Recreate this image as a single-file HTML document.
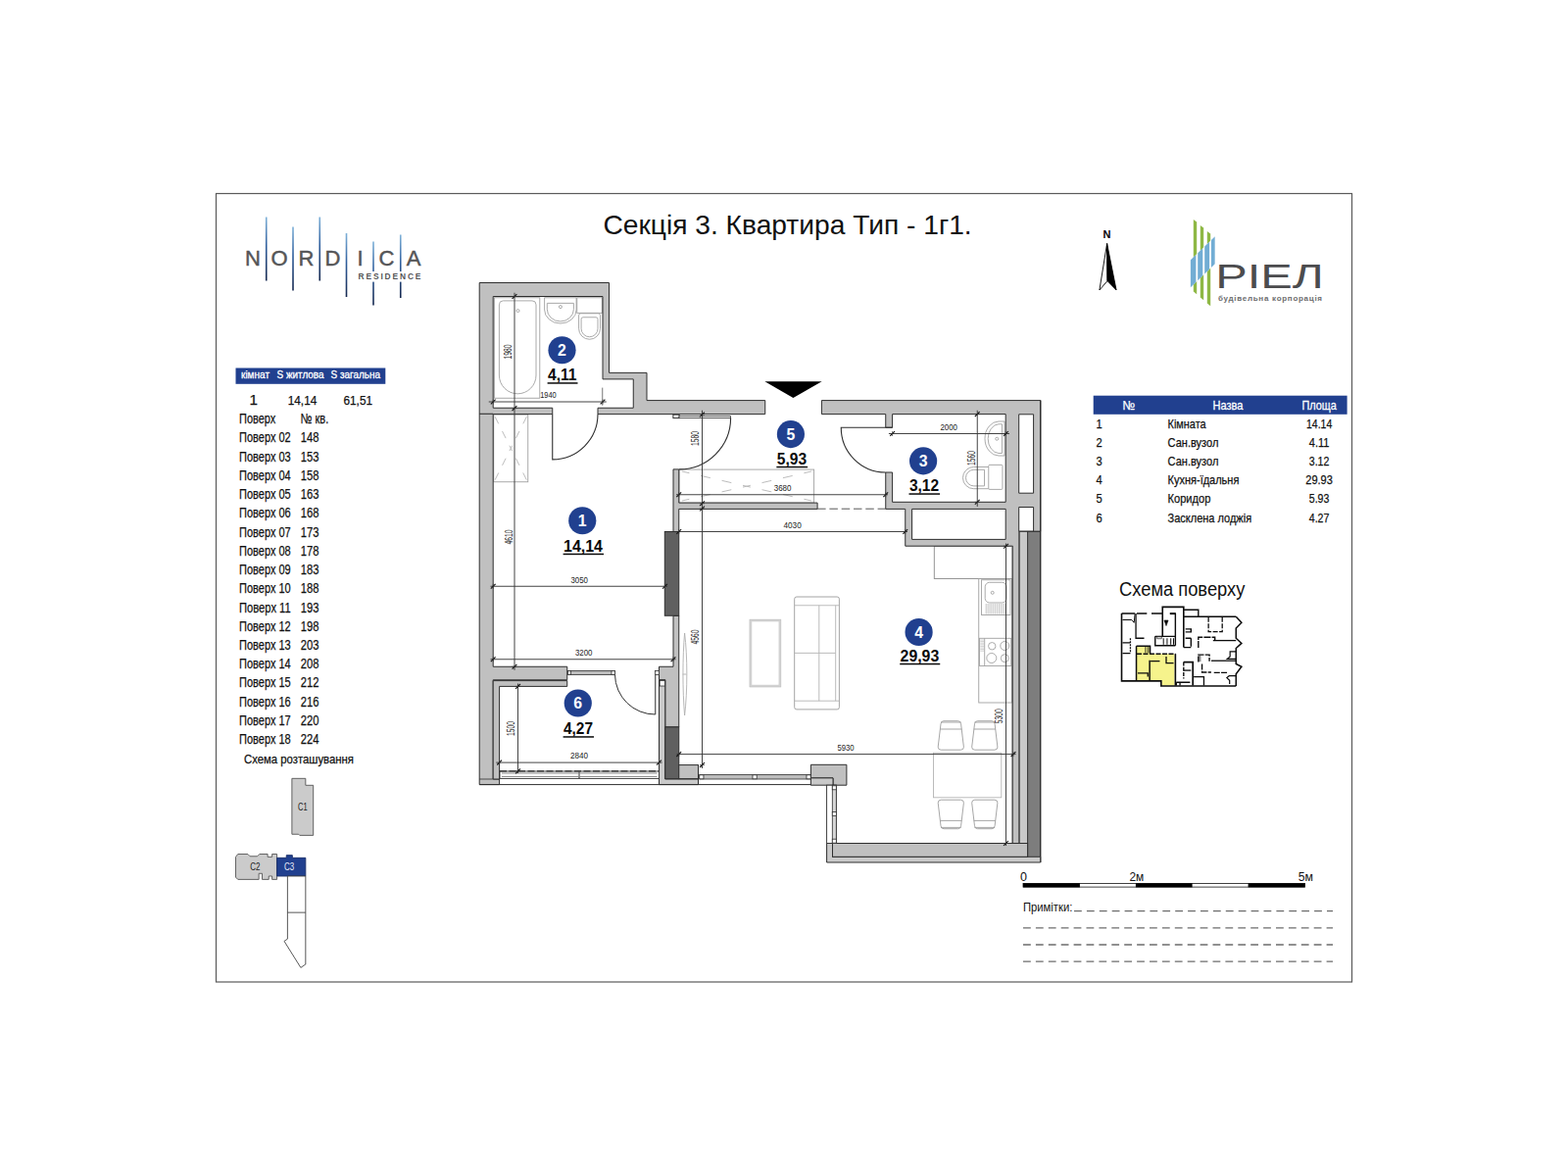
<!DOCTYPE html>
<html lang="uk">
<head>
<meta charset="utf-8">
<title>Секція 3. Квартира Тип - 1г1.</title>
<style>
html,body{margin:0;padding:0;background:#fff;}
body{width:1600px;height:1200px;overflow:hidden;}
svg{display:block;font-family:'Liberation Sans',sans-serif;}
</style>
</head>
<body>
<svg width="1600" height="1200" viewBox="0 0 1600 1200">
<rect x="0" y="0" width="1600" height="1200" fill="#ffffff"/>

<!-- frame -->
<rect x="220.50" y="197.50" width="1159.00" height="804.50" fill="none" stroke="#5a5a5a" stroke-width="1.2"/>
<!-- title -->
<text x="615.40" y="239.00" font-size="27.3" fill="#111" text-anchor="start" font-weight="normal" textLength="376.30" lengthAdjust="spacingAndGlyphs">Секція 3. Квартира Тип - 1г1.</text>
<!-- nordica logo -->
<defs><linearGradient id="ng" x1="0" y1="0" x2="0" y2="1"><stop offset="0" stop-color="#7fb2d9"/><stop offset="0.45" stop-color="#2f5f9e"/><stop offset="1" stop-color="#16284f"/></linearGradient></defs>
<rect x="270.95" y="221.5" width="1.6" height="65.0" fill="url(#ng)"/>
<rect x="298.20" y="231.5" width="1.6" height="65.0" fill="url(#ng)"/>
<rect x="325.45" y="221.5" width="1.6" height="65.0" fill="url(#ng)"/>
<rect x="352.70" y="238" width="1.6" height="65" fill="url(#ng)"/>
<rect x="380.20" y="246.5" width="1.6" height="65.0" fill="url(#ng)"/>
<rect x="407.95" y="239.5" width="1.6" height="64.5" fill="url(#ng)"/>
<text x="258.00" y="270.70" font-size="22" fill="#555557" text-anchor="middle" font-weight="normal" stroke="#555557" stroke-width="0.45">N</text>
<text x="285.00" y="270.70" font-size="22" fill="#555557" text-anchor="middle" font-weight="normal" stroke="#555557" stroke-width="0.45">O</text>
<text x="312.50" y="270.70" font-size="22" fill="#555557" text-anchor="middle" font-weight="normal" stroke="#555557" stroke-width="0.45">R</text>
<text x="339.50" y="270.70" font-size="22" fill="#555557" text-anchor="middle" font-weight="normal" stroke="#555557" stroke-width="0.45">D</text>
<text x="367.50" y="270.70" font-size="22" fill="#555557" text-anchor="middle" font-weight="normal" stroke="#555557" stroke-width="0.45">I</text>
<text x="394.50" y="270.70" font-size="22" fill="#555557" text-anchor="middle" font-weight="normal" stroke="#555557" stroke-width="0.45">C</text>
<text x="422.00" y="270.70" font-size="22" fill="#555557" text-anchor="middle" font-weight="normal" stroke="#555557" stroke-width="0.45">A</text>
<rect x="363.60" y="277.00" width="67.90" height="10.60" fill="#fff" stroke="none" stroke-width="1"/>
<text x="365.6" y="285.1" font-size="8.4" fill="#555557" font-weight="bold" textLength="63.8" lengthAdjust="spacing">RESIDENCE</text>
<!-- left table -->
<rect x="240.50" y="375.50" width="152.80" height="16.30" fill="#21408f" stroke="none" stroke-width="1"/>
<text x="246.00" y="386.30" font-size="10.6" fill="#fff" text-anchor="start" font-weight="normal" textLength="29.00" lengthAdjust="spacingAndGlyphs" stroke="#fff" stroke-width="0.3">кімнат</text>
<text x="282.50" y="386.30" font-size="10.6" fill="#fff" text-anchor="start" font-weight="normal" textLength="48.00" lengthAdjust="spacingAndGlyphs" stroke="#fff" stroke-width="0.3">S житлова</text>
<text x="337.50" y="386.30" font-size="10.6" fill="#fff" text-anchor="start" font-weight="normal" textLength="50.50" lengthAdjust="spacingAndGlyphs" stroke="#fff" stroke-width="0.3">S загальна</text>
<text x="254.60" y="413.40" font-size="15.2" fill="#111" text-anchor="start" font-weight="normal" stroke="#111" stroke-width="0.25">1</text>
<text x="293.75" y="413.20" font-size="12.2" fill="#111" text-anchor="start" font-weight="normal" textLength="29.50" lengthAdjust="spacingAndGlyphs" stroke="#111" stroke-width="0.25">14,14</text>
<text x="350.50" y="413.20" font-size="12.2" fill="#111" text-anchor="start" font-weight="normal" textLength="29.50" lengthAdjust="spacingAndGlyphs" stroke="#111" stroke-width="0.25">61,51</text>
<text x="244.00" y="432.40" font-size="14.5" fill="#111" text-anchor="start" font-weight="normal" textLength="37.30" lengthAdjust="spacingAndGlyphs" stroke="#111" stroke-width="0.25">Поверх</text>
<text x="306.70" y="432.40" font-size="14.5" fill="#111" text-anchor="start" font-weight="normal" textLength="28.50" lengthAdjust="spacingAndGlyphs" stroke="#111" stroke-width="0.25">№ кв.</text>
<text x="244.00" y="451.43" font-size="14.5" fill="#111" text-anchor="start" font-weight="normal" textLength="52.70" lengthAdjust="spacingAndGlyphs" stroke="#111" stroke-width="0.25">Поверх 02</text>
<text x="306.70" y="451.43" font-size="14.5" fill="#111" text-anchor="start" font-weight="normal" textLength="18.70" lengthAdjust="spacingAndGlyphs" stroke="#111" stroke-width="0.25">148</text>
<text x="244.00" y="470.66" font-size="14.5" fill="#111" text-anchor="start" font-weight="normal" textLength="52.70" lengthAdjust="spacingAndGlyphs" stroke="#111" stroke-width="0.25">Поверх 03</text>
<text x="306.70" y="470.66" font-size="14.5" fill="#111" text-anchor="start" font-weight="normal" textLength="18.70" lengthAdjust="spacingAndGlyphs" stroke="#111" stroke-width="0.25">153</text>
<text x="244.00" y="489.89" font-size="14.5" fill="#111" text-anchor="start" font-weight="normal" textLength="52.70" lengthAdjust="spacingAndGlyphs" stroke="#111" stroke-width="0.25">Поверх 04</text>
<text x="306.70" y="489.89" font-size="14.5" fill="#111" text-anchor="start" font-weight="normal" textLength="18.70" lengthAdjust="spacingAndGlyphs" stroke="#111" stroke-width="0.25">158</text>
<text x="244.00" y="509.12" font-size="14.5" fill="#111" text-anchor="start" font-weight="normal" textLength="52.70" lengthAdjust="spacingAndGlyphs" stroke="#111" stroke-width="0.25">Поверх 05</text>
<text x="306.70" y="509.12" font-size="14.5" fill="#111" text-anchor="start" font-weight="normal" textLength="18.70" lengthAdjust="spacingAndGlyphs" stroke="#111" stroke-width="0.25">163</text>
<text x="244.00" y="528.35" font-size="14.5" fill="#111" text-anchor="start" font-weight="normal" textLength="52.70" lengthAdjust="spacingAndGlyphs" stroke="#111" stroke-width="0.25">Поверх 06</text>
<text x="306.70" y="528.35" font-size="14.5" fill="#111" text-anchor="start" font-weight="normal" textLength="18.70" lengthAdjust="spacingAndGlyphs" stroke="#111" stroke-width="0.25">168</text>
<text x="244.00" y="547.58" font-size="14.5" fill="#111" text-anchor="start" font-weight="normal" textLength="52.70" lengthAdjust="spacingAndGlyphs" stroke="#111" stroke-width="0.25">Поверх 07</text>
<text x="306.70" y="547.58" font-size="14.5" fill="#111" text-anchor="start" font-weight="normal" textLength="18.70" lengthAdjust="spacingAndGlyphs" stroke="#111" stroke-width="0.25">173</text>
<text x="244.00" y="566.81" font-size="14.5" fill="#111" text-anchor="start" font-weight="normal" textLength="52.70" lengthAdjust="spacingAndGlyphs" stroke="#111" stroke-width="0.25">Поверх 08</text>
<text x="306.70" y="566.81" font-size="14.5" fill="#111" text-anchor="start" font-weight="normal" textLength="18.70" lengthAdjust="spacingAndGlyphs" stroke="#111" stroke-width="0.25">178</text>
<text x="244.00" y="586.04" font-size="14.5" fill="#111" text-anchor="start" font-weight="normal" textLength="52.70" lengthAdjust="spacingAndGlyphs" stroke="#111" stroke-width="0.25">Поверх 09</text>
<text x="306.70" y="586.04" font-size="14.5" fill="#111" text-anchor="start" font-weight="normal" textLength="18.70" lengthAdjust="spacingAndGlyphs" stroke="#111" stroke-width="0.25">183</text>
<text x="244.00" y="605.27" font-size="14.5" fill="#111" text-anchor="start" font-weight="normal" textLength="52.70" lengthAdjust="spacingAndGlyphs" stroke="#111" stroke-width="0.25">Поверх 10</text>
<text x="306.70" y="605.27" font-size="14.5" fill="#111" text-anchor="start" font-weight="normal" textLength="18.70" lengthAdjust="spacingAndGlyphs" stroke="#111" stroke-width="0.25">188</text>
<text x="244.00" y="624.50" font-size="14.5" fill="#111" text-anchor="start" font-weight="normal" textLength="52.70" lengthAdjust="spacingAndGlyphs" stroke="#111" stroke-width="0.25">Поверх 11</text>
<text x="306.70" y="624.50" font-size="14.5" fill="#111" text-anchor="start" font-weight="normal" textLength="18.70" lengthAdjust="spacingAndGlyphs" stroke="#111" stroke-width="0.25">193</text>
<text x="244.00" y="643.73" font-size="14.5" fill="#111" text-anchor="start" font-weight="normal" textLength="52.70" lengthAdjust="spacingAndGlyphs" stroke="#111" stroke-width="0.25">Поверх 12</text>
<text x="306.70" y="643.73" font-size="14.5" fill="#111" text-anchor="start" font-weight="normal" textLength="18.70" lengthAdjust="spacingAndGlyphs" stroke="#111" stroke-width="0.25">198</text>
<text x="244.00" y="662.96" font-size="14.5" fill="#111" text-anchor="start" font-weight="normal" textLength="52.70" lengthAdjust="spacingAndGlyphs" stroke="#111" stroke-width="0.25">Поверх 13</text>
<text x="306.70" y="662.96" font-size="14.5" fill="#111" text-anchor="start" font-weight="normal" textLength="18.70" lengthAdjust="spacingAndGlyphs" stroke="#111" stroke-width="0.25">203</text>
<text x="244.00" y="682.19" font-size="14.5" fill="#111" text-anchor="start" font-weight="normal" textLength="52.70" lengthAdjust="spacingAndGlyphs" stroke="#111" stroke-width="0.25">Поверх 14</text>
<text x="306.70" y="682.19" font-size="14.5" fill="#111" text-anchor="start" font-weight="normal" textLength="18.70" lengthAdjust="spacingAndGlyphs" stroke="#111" stroke-width="0.25">208</text>
<text x="244.00" y="701.42" font-size="14.5" fill="#111" text-anchor="start" font-weight="normal" textLength="52.70" lengthAdjust="spacingAndGlyphs" stroke="#111" stroke-width="0.25">Поверх 15</text>
<text x="306.70" y="701.42" font-size="14.5" fill="#111" text-anchor="start" font-weight="normal" textLength="18.70" lengthAdjust="spacingAndGlyphs" stroke="#111" stroke-width="0.25">212</text>
<text x="244.00" y="720.65" font-size="14.5" fill="#111" text-anchor="start" font-weight="normal" textLength="52.70" lengthAdjust="spacingAndGlyphs" stroke="#111" stroke-width="0.25">Поверх 16</text>
<text x="306.70" y="720.65" font-size="14.5" fill="#111" text-anchor="start" font-weight="normal" textLength="18.70" lengthAdjust="spacingAndGlyphs" stroke="#111" stroke-width="0.25">216</text>
<text x="244.00" y="739.88" font-size="14.5" fill="#111" text-anchor="start" font-weight="normal" textLength="52.70" lengthAdjust="spacingAndGlyphs" stroke="#111" stroke-width="0.25">Поверх 17</text>
<text x="306.70" y="739.88" font-size="14.5" fill="#111" text-anchor="start" font-weight="normal" textLength="18.70" lengthAdjust="spacingAndGlyphs" stroke="#111" stroke-width="0.25">220</text>
<text x="244.00" y="759.11" font-size="14.5" fill="#111" text-anchor="start" font-weight="normal" textLength="52.70" lengthAdjust="spacingAndGlyphs" stroke="#111" stroke-width="0.25">Поверх 18</text>
<text x="306.70" y="759.11" font-size="14.5" fill="#111" text-anchor="start" font-weight="normal" textLength="18.70" lengthAdjust="spacingAndGlyphs" stroke="#111" stroke-width="0.25">224</text>
<text x="249.00" y="779.30" font-size="13" fill="#111" text-anchor="start" font-weight="normal" textLength="112.00" lengthAdjust="spacingAndGlyphs" stroke="#111" stroke-width="0.25">Схема розташування</text>
<!-- location scheme -->
<polygon points="297.88,794.33 311.83,794.33 311.83,801.30 319.70,801.30 319.70,852.38 305.75,852.38 304.63,851.25 297.88,851.25" fill="#cbcbcb" stroke="#555" stroke-width="0.9"/>
<text x="304.00" y="827.00" font-size="10.5" fill="#222" text-anchor="start" font-weight="normal" textLength="9.60" lengthAdjust="spacingAndGlyphs">C1</text>
<polygon points="240.50,874.43 242.75,871.50 252.88,871.50 255.13,873.75 262.55,873.75 264.80,871.50 273.13,871.50 273.13,874.43 277.63,874.43 277.63,871.50 282.58,871.50 282.58,897.38 277.63,897.38 277.63,894.00 274.25,894.00 274.25,897.38 267.50,897.38 267.50,891.30 264.13,891.30 264.13,897.38 242.75,897.38 240.50,895.13" fill="#cbcbcb" stroke="#555" stroke-width="0.9"/>
<text x="255.20" y="887.70" font-size="10.5" fill="#222" text-anchor="start" font-weight="normal" textLength="10.20" lengthAdjust="spacingAndGlyphs">C2</text>
<polygon points="282.58,875.33 292.25,875.33 292.25,872.63 298.33,872.63 298.33,875.33 311.83,875.33 311.83,894.00 282.58,894.00" fill="#21408f" stroke="#1a2f6a" stroke-width="0.9"/>
<text x="290.00" y="887.70" font-size="10.5" fill="#e8ecf7" text-anchor="start" font-weight="normal" textLength="10.20" lengthAdjust="spacingAndGlyphs">C3</text>
<polygon points="293.38,894.00 311.83,894.00 311.83,984.00 306.88,987.38 290.00,960.38 293.38,958.13" fill="#fff" stroke="#444" stroke-width="0.9"/>
<line x1="293.38" y1="931.13" x2="311.83" y2="931.13" stroke="#444" stroke-width="0.9"/>
<!-- plan: fixtures and furniture -->
<g fill="none" stroke="#a0a0a0" stroke-width="0.9">
<rect x="504.4" y="303.75" width="46.4" height="102.5"/>
<path d="M513.4,306.9 H543 a4,4 0 0 1 4,4 V383 a18.8,18.8 0 0 1 -37.6,0 V310.9 a4,4 0 0 1 4,-4 Z"/>
<circle cx="528.5" cy="317.1" r="1.5"/>
<path d="M555.6,303.75 H588.1 V316 a16.2,14 0 0 1 -32.5,0 Z"/>
<path d="M558.3,309.4 H585.4 V315.5 a13.5,12.4 0 0 1 -27.1,0 Z"/>
<circle cx="571.9" cy="313.1" r="1.5"/>
<rect x="588.75" y="303.75" width="25.6" height="15.6"/>
<path d="M590.6,321.8 a2,2 0 0 1 2,-2 H610.5 a2,2 0 0 1 2,2 V335.3 a10.95,10.95 0 0 1 -21.9,0 Z"/>
<path d="M593.1,325.75 a2,2 0 0 1 2,-2 H608 a2,2 0 0 1 2,2 V335.3 a8.45,8.45 0 0 1 -16.9,0 Z"/>
<path d="M1025,430 V465 H1019 a14,17.5 0 0 1 0,-35 Z"/>
<path d="M1022.5,432.75 V462.5 H1019 a11.5,14.9 0 0 1 0,-29.75 Z"/>
<circle cx="1017.25" cy="447.75" r="1.5"/>
<rect x="1008.75" y="474.4" width="14.2" height="25" rx="1"/>
<path d="M1008.75,476.5 H993.6 a11.1,11.1 0 0 0 0,22.2 H1008.75"/>
<path d="M1004.5,479.3 H993.8 a8.3,8.3 0 0 0 0,16.6 H1004.5 Z"/>
<rect x="503.75" y="423" width="35" height="68.75"/>
<rect x="693.1" y="479.1" width="137.5" height="34"/>
<g stroke-dasharray="8 8.5" stroke="#b4b4b4"><path d="M521.25,457.4 L505,425 M521.25,457.4 L537.5,425 M521.25,457.4 L505,490 M521.25,457.4 L537.5,490" stroke-dashoffset="5"/><path d="M761.9,496.2 L696,481 M761.9,496.2 L828,481 M761.9,496.2 L696,511 M761.9,496.2 L828,511" stroke-dasharray="10 12" stroke-dashoffset="6"/></g>
<rect x="953.3" y="557.25" width="80.7" height="33.25" stroke="#8a8a8a"/>
<rect x="998.75" y="590.5" width="33.75" height="126.5"/>
<rect x="1001.5" y="591.75" width="29.5" height="35.75"/>
<rect x="1005.2" y="594.3" width="21.8" height="20.7" rx="4.5"/>
<circle cx="1012.7" cy="604.8" r="1.5"/>
<path d="M1006.2,616 V626.6 M1008.1,616 V626.6 M1010.0,616 V626.6 M1011.9,616 V626.6 M1013.8,616 V626.6 M1015.7,616 V626.6 M1017.6,616 V626.6 M1019.5,616 V626.6 M1021.4,616 V626.6 M1023.3,616 V626.6 M1025.2,616 V626.6" stroke-width="0.6"/>
<rect x="999.5" y="651.3" width="32.25" height="28.2"/>
<line x1="1004.7" y1="651.3" x2="1004.7" y2="679.5"/>
<path d="M1000.3,653.0 H1004 M1000.3,654.6 H1004 M1000.3,656.2 H1004 M1000.3,657.8 H1004 M1000.3,659.4 H1004 M1000.3,661.0 H1004 M1000.3,662.6 H1004 M1000.3,664.2 H1004" stroke-width="0.5"/>
<circle cx="1012.25" cy="659.25" r="3.7"/><circle cx="1025.3" cy="659" r="4.5"/><circle cx="1011.8" cy="671.5" r="5"/><circle cx="1025.3" cy="671.7" r="4"/>
<rect x="810.7" y="609" width="45.7" height="114.9" rx="2.2" stroke="#9a9a9a"/>
<path d="M810.7,617.75 H856.4 M810.7,715.2 H856.4 M835.8,617.75 V715.2 M852.7,617.75 V715.2 M810.7,666.4 H852.7" stroke="#b4b4b4"/>
<rect x="766.1" y="633.2" width="29.6" height="66.7" stroke="#d2d2d2" stroke-width="2.3"/>
<rect x="764.9" y="632.1" width="32" height="68.9" stroke="#b8b8b8" stroke-width="0.5"/>
<path d="M698.6,646 C701.6,670 701.6,705 698.6,730 C696.4,705 696.4,670 698.6,646 Z M696.5,688 H700.6" stroke="#b0b0b0"/>
<rect x="952.5" y="768.2" width="69.3" height="45.6" stroke="#b4b4b4"/>
<path d="M957.1999999999999,819.2 Q957.1999999999999,816.2 960.1999999999999,816.2 H980.4 Q983.4,816.2 983.4,819.2 L980.5999999999999,842.7 Q980.3,845.7 977.5999999999999,845.7 H963.0 Q960.3,845.7 960.0,842.7 Z M959.1999999999999,837.4000000000001 H981.4 M960.0,844.4000000000001 H980.5999999999999" stroke="#9c9c9c"/>
<path d="M991.6999999999999,819.2 Q991.6999999999999,816.2 994.6999999999999,816.2 H1014.9 Q1017.9,816.2 1017.9,819.2 L1015.0999999999999,842.7 Q1014.8,845.7 1012.0999999999999,845.7 H997.5 Q994.8,845.7 994.5,842.7 Z M993.6999999999999,837.4000000000001 H1015.9 M994.5,844.4000000000001 H1015.0999999999999" stroke="#9c9c9c"/>
<path d="M957.1999999999999,762.2 Q957.1999999999999,765.2 960.1999999999999,765.2 H980.4 Q983.4,765.2 983.4,762.2 L980.5999999999999,738.7 Q980.3,735.7 977.5999999999999,735.7 H963.0 Q960.3,735.7 960.0,738.7 Z M959.1999999999999,744.0 H981.4 M960.0,737.0 H980.5999999999999" stroke="#9c9c9c"/>
<path d="M991.6999999999999,762.2 Q991.6999999999999,765.2 994.6999999999999,765.2 H1014.9 Q1017.9,765.2 1017.9,762.2 L1015.0999999999999,738.7 Q1014.8,735.7 1012.0999999999999,735.7 H997.5 Q994.8,735.7 994.5,738.7 Z M993.6999999999999,744.0 H1015.9 M994.5,737.0 H1015.0999999999999" stroke="#9c9c9c"/>
</g>
<!-- plan: walls -->
<g stroke-linejoin="miter">
<polygon points="489.20,288.50 621.50,288.50 621.50,380.40 660.00,380.40 660.00,408.60 780.75,408.60 780.75,422.60 610.00,422.60 610.00,416.25 646.25,416.25 646.25,386.90 615.00,386.90 615.00,302.50 503.20,302.50 503.20,416.25 563.75,416.25 563.75,422.60 503.20,422.60 503.20,680.25 578.75,680.25 578.75,693.75 503.20,693.75 503.20,795.00 509.60,795.00 509.60,800.60 489.20,800.60" fill="#c0c0c0" stroke="#2e2e2e" stroke-width="1"/>
<line x1="489.20" y1="422.30" x2="503.20" y2="422.30" stroke="#2e2e2e" stroke-width="1.1"/>
<line x1="489.20" y1="795.00" x2="503.20" y2="795.00" stroke="#2e2e2e" stroke-width="0.8"/>
<polygon points="503.20,694.60 578.75,694.60 578.75,700.40 509.60,700.40 509.60,795.00 503.20,795.00" fill="#c0c0c0" stroke="#2e2e2e" stroke-width="1"/>
<path d="M838.4,408.6 L1061.7,408.6 L1061.7,542.3 L1040.1,542.3 L1040.1,860.5 L1033.4,860.5 L1033.4,557.2 L923.75,557.2 L923.75,519.4 L903.75,519.4 L903.75,482 L910.6,482 L910.6,512.3 L1026.2,512.3 L1026.2,422.6 L910.6,422.6 L910.6,436.25 L903.75,436.25 L903.75,422.6 L838.4,422.6 Z M930.6,519.4 L1026.2,519.4 L1026.2,550.4 L930.6,550.4 Z M1039.7,422.8 L1054.6,422.8 L1054.6,503.2 L1039.7,503.2 Z M1039.7,517.5 L1054.6,517.5 L1054.6,542.3 L1039.7,542.3 Z" fill="#c0c0c0" stroke="#2e2e2e" stroke-width="1" fill-rule="evenodd"/>
<rect x="1040.30" y="542.30" width="8.10" height="332.00" fill="#c9c9c9" stroke="none" stroke-width="1"/>
<rect x="1048.90" y="542.30" width="12.80" height="332.00" fill="#7d7d7d" stroke="none" stroke-width="1"/>
<line x1="1033.20" y1="557.20" x2="1033.20" y2="860.50" stroke="#5a5a5a" stroke-width="1.5"/>
<line x1="1040.10" y1="542.30" x2="1040.10" y2="860.50" stroke="#2e2e2e" stroke-width="1"/>
<line x1="1048.60" y1="542.30" x2="1048.60" y2="874.30" stroke="#2e2e2e" stroke-width="1"/>
<line x1="1061.70" y1="408.60" x2="1061.70" y2="880.00" stroke="#2e2e2e" stroke-width="1.4"/>
<line x1="1040.10" y1="542.30" x2="1061.70" y2="542.30" stroke="#2e2e2e" stroke-width="1"/>
<polygon points="843.60,860.50 849.50,860.50 849.50,874.30 1061.70,874.30 1061.70,880.00 843.60,880.00" fill="#c9c9c9" stroke="#2e2e2e" stroke-width="1"/>
<rect x="849.50" y="860.50" width="199.10" height="13.80" fill="#c0c0c0" stroke="#2e2e2e" stroke-width="1"/>
<polygon points="687.00,478.90 692.75,478.90 692.75,513.10 834.10,513.10 834.10,519.40 692.75,519.40 692.75,542.50 687.00,542.50" fill="#c0c0c0" stroke="#2e2e2e" stroke-width="1"/>
<rect x="686.90" y="423.10" width="6.20" height="3.50" fill="#fff" stroke="#2e2e2e" stroke-width="1"/>
<polygon points="687.00,628.25 692.75,628.25 692.75,741.90 678.75,741.90 678.75,693.75 672.50,693.75 672.50,680.25 687.00,680.25" fill="#c0c0c0" stroke="#2e2e2e" stroke-width="1"/>
<polygon points="672.50,693.75 678.75,693.75 678.75,795.00 712.50,795.00 712.50,800.60 672.50,800.60" fill="#c9c9c9" stroke="#2e2e2e" stroke-width="1"/>
<rect x="673.20" y="694.60" width="5.20" height="5.40" fill="#fff" stroke="#2e2e2e" stroke-width="0.8"/>
<rect x="678.30" y="542.50" width="14.45" height="85.75" fill="#606060" stroke="#2e2e2e" stroke-width="1"/>
<rect x="678.75" y="741.90" width="14.00" height="52.70" fill="#606060" stroke="#2e2e2e" stroke-width="1"/>
<rect x="692.75" y="780.60" width="19.75" height="14.00" fill="#c0c0c0" stroke="#2e2e2e" stroke-width="1"/>
<polygon points="827.40,780.30 863.90,780.30 863.90,801.20 850.00,801.20 850.00,793.90 827.40,793.90" fill="#c0c0c0" stroke="#2e2e2e" stroke-width="1"/>
<polygon points="827.40,793.90 850.00,793.90 850.00,801.20 827.40,801.20" fill="#c9c9c9" stroke="#2e2e2e" stroke-width="1"/>
</g>
<!-- plan: windows -->
<rect x="579.40" y="684.40" width="48.10" height="4.10" fill="#bdbdbd" stroke="#2e2e2e" stroke-width="0.8"/>
<rect x="579.40" y="684.40" width="3.20" height="4.10" fill="#fff" stroke="#2e2e2e" stroke-width="0.8"/>
<rect x="624.00" y="684.40" width="3.50" height="4.10" fill="#fff" stroke="#2e2e2e" stroke-width="0.8"/>
<rect x="668.50" y="684.40" width="4.00" height="4.10" fill="#fff" stroke="#2e2e2e" stroke-width="0.8"/>
<rect x="510.00" y="787.00" width="162.50" height="7.40" fill="#fff" stroke="#2e2e2e" stroke-width="0.9"/>
<line x1="510.00" y1="786.90" x2="672.50" y2="786.90" stroke="#2e2e2e" stroke-width="1.3" stroke-dasharray="7 2.5"/>
<line x1="512.00" y1="789.00" x2="670.50" y2="789.00" stroke="#555" stroke-width="0.7"/>
<line x1="512.00" y1="792.40" x2="670.50" y2="792.40" stroke="#555" stroke-width="0.7"/>
<line x1="591.00" y1="787.50" x2="591.00" y2="794.40" stroke="#444" stroke-width="1.6"/>
<line x1="591.00" y1="788.20" x2="591.00" y2="793.60" stroke="#fff" stroke-width="0.6"/>
<line x1="489.20" y1="800.60" x2="827.40" y2="800.60" stroke="#2e2e2e" stroke-width="1"/>
<rect x="713.75" y="790.60" width="113.65" height="4.40" fill="#bdbdbd" stroke="#2e2e2e" stroke-width="0.8"/>
<rect x="713.75" y="790.80" width="4.20" height="4.00" fill="#fff" stroke="#2e2e2e" stroke-width="0.8"/>
<rect x="768.00" y="790.80" width="4.20" height="4.00" fill="#fff" stroke="#2e2e2e" stroke-width="0.8"/>
<rect x="823.00" y="790.80" width="4.20" height="4.00" fill="#fff" stroke="#2e2e2e" stroke-width="0.8"/>
<rect x="843.60" y="801.20" width="9.70" height="59.30" fill="#fff" stroke="#2e2e2e" stroke-width="0.9"/>
<rect x="849.30" y="801.20" width="4.00" height="59.30" fill="#d8d8d8" stroke="#2e2e2e" stroke-width="0.8"/>
<rect x="849.30" y="801.80" width="4.00" height="4.00" fill="#fff" stroke="#2e2e2e" stroke-width="0.8"/>
<rect x="849.30" y="828.60" width="4.00" height="4.00" fill="#fff" stroke="#2e2e2e" stroke-width="0.8"/>
<rect x="849.30" y="856.20" width="4.00" height="4.00" fill="#fff" stroke="#2e2e2e" stroke-width="0.8"/>
<!-- plan: doors -->
<path d="M563.75,422.6 L563.75,468.9 A46.25,46.25 0 0 0 610,422.6" fill="none" stroke="#2e2e2e" stroke-width="1.1"/>
<rect x="693.00" y="424.60" width="52.60" height="2.00" fill="#fff" stroke="#2e2e2e" stroke-width="0.8"/>
<path d="M745.6,426.6 A52.4,52.4 0 0 1 693.1,478.9" fill="none" stroke="#2e2e2e" stroke-width="1.1"/>
<path d="M910.6,436.25 L858.25,436.25 A45.6,45.6 0 0 0 903.75,482" fill="none" stroke="#2e2e2e" stroke-width="1.1"/>
<path d="M668.75,688.5 L668.75,729 A41,41 0 0 1 627.5,688.5" fill="none" stroke="#2e2e2e" stroke-width="1.0"/>
<!-- plan: entry arrow -->
<polygon points="780.40,389.20 838.60,389.20 809.40,406.00" fill="#000" stroke="none" stroke-width="1"/>
<!-- plan: dashed line corridor -->
<line x1="834.10" y1="519.20" x2="903.75" y2="519.20" stroke="#444" stroke-width="0.9" stroke-dasharray="8.5 3.8"/>
<!-- plan: dimensions -->
<line x1="525.00" y1="298.75" x2="525.00" y2="683.75" stroke="#3a3a3a" stroke-width="0.95"/>
<line x1="522.60" y1="304.90" x2="527.40" y2="300.10" stroke="#111" stroke-width="1.1"/>
<line x1="522.50" y1="302.50" x2="527.50" y2="302.50" stroke="#3a3a3a" stroke-width="0.7"/>
<line x1="522.60" y1="419.00" x2="527.40" y2="414.20" stroke="#111" stroke-width="1.1"/>
<line x1="522.50" y1="416.60" x2="527.50" y2="416.60" stroke="#3a3a3a" stroke-width="0.7"/>
<line x1="522.60" y1="682.65" x2="527.40" y2="677.85" stroke="#111" stroke-width="1.1"/>
<line x1="522.50" y1="680.25" x2="527.50" y2="680.25" stroke="#3a3a3a" stroke-width="0.7"/>
<text transform="translate(522.40,359.00) rotate(-90)" font-size="11" fill="#222" text-anchor="middle" textLength="15" lengthAdjust="spacingAndGlyphs">1980</text>
<text transform="translate(522.65,548.00) rotate(-90)" font-size="11" fill="#222" text-anchor="middle" textLength="15" lengthAdjust="spacingAndGlyphs">4610</text>
<line x1="498.75" y1="410.00" x2="618.75" y2="410.00" stroke="#3a3a3a" stroke-width="0.95"/>
<line x1="500.80" y1="412.40" x2="505.60" y2="407.60" stroke="#111" stroke-width="1.1"/>
<line x1="503.20" y1="407.50" x2="503.20" y2="412.50" stroke="#3a3a3a" stroke-width="0.7"/>
<line x1="612.60" y1="412.40" x2="617.40" y2="407.60" stroke="#111" stroke-width="1.1"/>
<line x1="615.00" y1="407.50" x2="615.00" y2="412.50" stroke="#3a3a3a" stroke-width="0.7"/>
<line x1="614.75" y1="395.60" x2="614.75" y2="413.75" stroke="#3a3a3a" stroke-width="0.7"/>
<text x="559.40" y="405.60" font-size="9.6" fill="#222" text-anchor="middle" font-weight="normal" textLength="16.50" lengthAdjust="spacingAndGlyphs">1940</text>
<line x1="716.50" y1="418.75" x2="716.50" y2="784.00" stroke="#3a3a3a" stroke-width="0.95"/>
<line x1="714.10" y1="425.40" x2="718.90" y2="420.60" stroke="#111" stroke-width="1.1"/>
<line x1="714.00" y1="423.00" x2="719.00" y2="423.00" stroke="#3a3a3a" stroke-width="0.7"/>
<line x1="714.10" y1="516.15" x2="718.90" y2="511.35" stroke="#111" stroke-width="1.1"/>
<line x1="714.00" y1="513.75" x2="719.00" y2="513.75" stroke="#3a3a3a" stroke-width="0.7"/>
<line x1="714.10" y1="521.40" x2="718.90" y2="516.60" stroke="#111" stroke-width="1.1"/>
<line x1="714.00" y1="519.00" x2="719.00" y2="519.00" stroke="#3a3a3a" stroke-width="0.7"/>
<line x1="714.10" y1="783.00" x2="718.90" y2="778.20" stroke="#111" stroke-width="1.1"/>
<line x1="714.00" y1="780.60" x2="719.00" y2="780.60" stroke="#3a3a3a" stroke-width="0.7"/>
<text transform="translate(712.90,447.50) rotate(-90)" font-size="11" fill="#222" text-anchor="middle" textLength="15" lengthAdjust="spacingAndGlyphs">1580</text>
<text transform="translate(713.40,650.00) rotate(-90)" font-size="11" fill="#222" text-anchor="middle" textLength="15" lengthAdjust="spacingAndGlyphs">4560</text>
<line x1="690.00" y1="504.75" x2="906.00" y2="504.75" stroke="#3a3a3a" stroke-width="0.95"/>
<line x1="690.35" y1="507.15" x2="695.15" y2="502.35" stroke="#111" stroke-width="1.1"/>
<line x1="692.75" y1="502.25" x2="692.75" y2="507.25" stroke="#3a3a3a" stroke-width="0.7"/>
<line x1="901.35" y1="507.15" x2="906.15" y2="502.35" stroke="#111" stroke-width="1.1"/>
<line x1="903.75" y1="502.25" x2="903.75" y2="507.25" stroke="#3a3a3a" stroke-width="0.7"/>
<text x="798.60" y="501.25" font-size="9.6" fill="#222" text-anchor="middle" font-weight="normal" textLength="17.75" lengthAdjust="spacingAndGlyphs">3680</text>
<line x1="692.50" y1="542.50" x2="926.00" y2="542.50" stroke="#3a3a3a" stroke-width="0.95"/>
<line x1="690.35" y1="544.90" x2="695.15" y2="540.10" stroke="#111" stroke-width="1.1"/>
<line x1="692.75" y1="540.00" x2="692.75" y2="545.00" stroke="#3a3a3a" stroke-width="0.7"/>
<line x1="921.35" y1="544.90" x2="926.15" y2="540.10" stroke="#111" stroke-width="1.1"/>
<line x1="923.75" y1="540.00" x2="923.75" y2="545.00" stroke="#3a3a3a" stroke-width="0.7"/>
<text x="808.60" y="539.00" font-size="9.6" fill="#222" text-anchor="middle" font-weight="normal" textLength="18.30" lengthAdjust="spacingAndGlyphs">4030</text>
<line x1="906.90" y1="442.50" x2="1030.00" y2="442.50" stroke="#3a3a3a" stroke-width="0.95"/>
<line x1="908.20" y1="444.90" x2="913.00" y2="440.10" stroke="#111" stroke-width="1.1"/>
<line x1="910.60" y1="440.00" x2="910.60" y2="445.00" stroke="#3a3a3a" stroke-width="0.7"/>
<line x1="1024.00" y1="444.90" x2="1028.80" y2="440.10" stroke="#111" stroke-width="1.1"/>
<line x1="1026.40" y1="440.00" x2="1026.40" y2="445.00" stroke="#3a3a3a" stroke-width="0.7"/>
<text x="968.20" y="438.50" font-size="9.6" fill="#222" text-anchor="middle" font-weight="normal" textLength="17.50" lengthAdjust="spacingAndGlyphs">2000</text>
<line x1="997.25" y1="418.75" x2="997.25" y2="516.90" stroke="#3a3a3a" stroke-width="0.95"/>
<line x1="994.85" y1="425.00" x2="999.65" y2="420.20" stroke="#111" stroke-width="1.1"/>
<line x1="994.75" y1="422.60" x2="999.75" y2="422.60" stroke="#3a3a3a" stroke-width="0.7"/>
<line x1="994.85" y1="514.70" x2="999.65" y2="509.90" stroke="#111" stroke-width="1.1"/>
<line x1="994.75" y1="512.30" x2="999.75" y2="512.30" stroke="#3a3a3a" stroke-width="0.7"/>
<text transform="translate(994.50,467.50) rotate(-90)" font-size="11" fill="#222" text-anchor="middle" textLength="15" lengthAdjust="spacingAndGlyphs">1560</text>
<line x1="500.50" y1="598.25" x2="681.00" y2="598.25" stroke="#3a3a3a" stroke-width="0.95"/>
<line x1="500.80" y1="600.65" x2="505.60" y2="595.85" stroke="#111" stroke-width="1.1"/>
<line x1="503.20" y1="595.75" x2="503.20" y2="600.75" stroke="#3a3a3a" stroke-width="0.7"/>
<line x1="676.10" y1="600.65" x2="680.90" y2="595.85" stroke="#111" stroke-width="1.1"/>
<line x1="678.50" y1="595.75" x2="678.50" y2="600.75" stroke="#3a3a3a" stroke-width="0.7"/>
<text x="591.25" y="595.00" font-size="9.6" fill="#222" text-anchor="middle" font-weight="normal" textLength="17.50" lengthAdjust="spacingAndGlyphs">3050</text>
<line x1="500.50" y1="672.75" x2="689.50" y2="672.75" stroke="#3a3a3a" stroke-width="0.95"/>
<line x1="500.80" y1="675.15" x2="505.60" y2="670.35" stroke="#111" stroke-width="1.1"/>
<line x1="503.20" y1="670.25" x2="503.20" y2="675.25" stroke="#3a3a3a" stroke-width="0.7"/>
<line x1="684.60" y1="675.15" x2="689.40" y2="670.35" stroke="#111" stroke-width="1.1"/>
<line x1="687.00" y1="670.25" x2="687.00" y2="675.25" stroke="#3a3a3a" stroke-width="0.7"/>
<text x="595.75" y="669.20" font-size="9.6" fill="#222" text-anchor="middle" font-weight="normal" textLength="17.50" lengthAdjust="spacingAndGlyphs">3200</text>
<line x1="528.50" y1="697.50" x2="528.50" y2="789.00" stroke="#3a3a3a" stroke-width="0.95"/>
<line x1="526.10" y1="702.80" x2="530.90" y2="698.00" stroke="#111" stroke-width="1.1"/>
<line x1="526.00" y1="700.40" x2="531.00" y2="700.40" stroke="#3a3a3a" stroke-width="0.7"/>
<line x1="526.10" y1="789.30" x2="530.90" y2="784.50" stroke="#111" stroke-width="1.1"/>
<line x1="526.00" y1="786.90" x2="531.00" y2="786.90" stroke="#3a3a3a" stroke-width="0.7"/>
<text transform="translate(525.15,743.50) rotate(-90)" font-size="11" fill="#222" text-anchor="middle" textLength="15" lengthAdjust="spacingAndGlyphs">1500</text>
<line x1="506.25" y1="778.10" x2="675.50" y2="778.10" stroke="#3a3a3a" stroke-width="0.95"/>
<line x1="507.20" y1="780.50" x2="512.00" y2="775.70" stroke="#111" stroke-width="1.1"/>
<line x1="509.60" y1="775.60" x2="509.60" y2="780.60" stroke="#3a3a3a" stroke-width="0.7"/>
<line x1="670.10" y1="780.50" x2="674.90" y2="775.70" stroke="#111" stroke-width="1.1"/>
<line x1="672.50" y1="775.60" x2="672.50" y2="780.60" stroke="#3a3a3a" stroke-width="0.7"/>
<text x="591.00" y="773.50" font-size="9.6" fill="#222" text-anchor="middle" font-weight="normal" textLength="18.10" lengthAdjust="spacingAndGlyphs">2840</text>
<line x1="690.50" y1="769.60" x2="1036.50" y2="769.60" stroke="#3a3a3a" stroke-width="0.95"/>
<line x1="690.35" y1="772.00" x2="695.15" y2="767.20" stroke="#111" stroke-width="1.1"/>
<line x1="692.75" y1="767.10" x2="692.75" y2="772.10" stroke="#3a3a3a" stroke-width="0.7"/>
<line x1="1031.60" y1="772.00" x2="1036.40" y2="767.20" stroke="#111" stroke-width="1.1"/>
<line x1="1034.00" y1="767.10" x2="1034.00" y2="772.10" stroke="#3a3a3a" stroke-width="0.7"/>
<text x="863.10" y="766.25" font-size="9.6" fill="#222" text-anchor="middle" font-weight="normal" textLength="17.10" lengthAdjust="spacingAndGlyphs">5930</text>
<line x1="1026.50" y1="554.50" x2="1026.50" y2="863.00" stroke="#3a3a3a" stroke-width="0.95"/>
<line x1="1024.10" y1="559.60" x2="1028.90" y2="554.80" stroke="#111" stroke-width="1.1"/>
<line x1="1024.00" y1="557.20" x2="1029.00" y2="557.20" stroke="#3a3a3a" stroke-width="0.7"/>
<line x1="1024.10" y1="862.90" x2="1028.90" y2="858.10" stroke="#111" stroke-width="1.1"/>
<line x1="1024.00" y1="860.50" x2="1029.00" y2="860.50" stroke="#3a3a3a" stroke-width="0.7"/>
<text transform="translate(1023.15,730.75) rotate(-90)" font-size="11" fill="#222" text-anchor="middle" textLength="15" lengthAdjust="spacingAndGlyphs">5300</text>
<!-- plan: room labels -->
<circle cx="594.25" cy="531.25" r="14.1" fill="#21408f"/>
<text x="594.25" y="536.85" font-size="15.8" fill="#fff" text-anchor="middle" font-weight="bold">1</text>
<text x="575.00" y="562.80" font-size="16.3" fill="#0a0a0a" text-anchor="start" font-weight="bold" textLength="40.00" lengthAdjust="spacingAndGlyphs">14,14</text>
<rect x="574.60" y="564.70" width="41.40" height="1.50" fill="#0a0a0a" stroke="none" stroke-width="1"/>
<circle cx="573.5" cy="357.25" r="14.1" fill="#21408f"/>
<text x="573.50" y="362.85" font-size="15.8" fill="#fff" text-anchor="middle" font-weight="bold">2</text>
<text x="559.00" y="388.30" font-size="16.3" fill="#0a0a0a" text-anchor="start" font-weight="bold" textLength="29.50" lengthAdjust="spacingAndGlyphs">4,11</text>
<rect x="558.60" y="390.20" width="30.90" height="1.50" fill="#0a0a0a" stroke="none" stroke-width="1"/>
<circle cx="942.1" cy="470.4" r="14.1" fill="#21408f"/>
<text x="942.10" y="476.00" font-size="15.8" fill="#fff" text-anchor="middle" font-weight="bold">3</text>
<text x="927.90" y="501.40" font-size="16.3" fill="#0a0a0a" text-anchor="start" font-weight="bold" textLength="30.20" lengthAdjust="spacingAndGlyphs">3,12</text>
<rect x="927.50" y="503.30" width="31.60" height="1.50" fill="#0a0a0a" stroke="none" stroke-width="1"/>
<circle cx="937.6" cy="645" r="14.1" fill="#21408f"/>
<text x="937.60" y="650.60" font-size="15.8" fill="#fff" text-anchor="middle" font-weight="bold">4</text>
<text x="918.60" y="674.90" font-size="16.3" fill="#0a0a0a" text-anchor="start" font-weight="bold" textLength="39.65" lengthAdjust="spacingAndGlyphs">29,93</text>
<rect x="918.20" y="676.80" width="41.05" height="1.50" fill="#0a0a0a" stroke="none" stroke-width="1"/>
<circle cx="806.9" cy="443.1" r="14.1" fill="#21408f"/>
<text x="806.90" y="448.70" font-size="15.8" fill="#fff" text-anchor="middle" font-weight="bold">5</text>
<text x="792.75" y="473.90" font-size="16.3" fill="#0a0a0a" text-anchor="start" font-weight="bold" textLength="30.35" lengthAdjust="spacingAndGlyphs">5,93</text>
<rect x="792.35" y="475.80" width="31.75" height="1.50" fill="#0a0a0a" stroke="none" stroke-width="1"/>
<circle cx="589.75" cy="717.5" r="14.1" fill="#21408f"/>
<text x="589.75" y="723.10" font-size="15.8" fill="#fff" text-anchor="middle" font-weight="bold">6</text>
<text x="575.00" y="749.30" font-size="16.3" fill="#0a0a0a" text-anchor="start" font-weight="bold" textLength="30.00" lengthAdjust="spacingAndGlyphs">4,27</text>
<rect x="574.60" y="751.20" width="31.40" height="1.50" fill="#0a0a0a" stroke="none" stroke-width="1"/>
<!-- north arrow -->
<text x="1129.60" y="243.00" font-size="11" fill="#000" text-anchor="middle" font-weight="bold">N</text>
<polygon points="1129.60,248.50 1121.90,296.00 1130.00,286.60" fill="#fff" stroke="#000" stroke-width="0.9"/>
<polygon points="1129.60,248.50 1139.10,296.00 1130.00,286.60" fill="#000" stroke="#000" stroke-width="0.9"/>
<!-- riel logo -->
<polygon points="1217.80,224.00 1221.20,226.60 1221.20,300.30 1217.80,297.50" fill="#8fb845" stroke="none" stroke-width="1"/>
<polygon points="1224.80,230.00 1228.20,232.60 1228.20,306.30 1224.80,303.50" fill="#8fb845" stroke="none" stroke-width="1"/>
<polygon points="1231.80,236.00 1235.20,238.60 1235.20,312.30 1231.80,309.50" fill="#8fb845" stroke="none" stroke-width="1"/>
<clipPath id="band"><polygon points="1214.6,265.6 1239.8,241.2 1239.8,269.2 1214.6,293.6"/></clipPath>
<polygon points="1214.6,265.6 1239.8,241.2 1239.8,269.2 1214.6,293.6" fill="#ffffff"/>
<g clip-path="url(#band)" fill="#72add4">
<rect x="1214.6" y="238" width="5.80" height="60"/>
<rect x="1222.2" y="238" width="5.10" height="60"/>
<rect x="1229.2" y="238" width="4.90" height="60"/>
<rect x="1235.9" y="238" width="3.90" height="60"/>
</g>
<text x="1240.20" y="294.00" font-size="35.5" fill="#4c4c4e" text-anchor="start" font-weight="normal" textLength="110.60" lengthAdjust="spacingAndGlyphs">РІЕЛ</text>
<text x="1243" y="306.5" font-size="8" fill="#6c6c6e" font-weight="bold" textLength="106" lengthAdjust="spacing">будівельна корпорація</text>
<!-- right table -->
<rect x="1115.70" y="403.70" width="258.90" height="19.10" fill="#21408f" stroke="none" stroke-width="1"/>
<text x="1151.90" y="418.10" font-size="13" fill="#fff" text-anchor="middle" font-weight="normal" textLength="12.75" lengthAdjust="spacingAndGlyphs" stroke="#fff" stroke-width="0.3">№</text>
<text x="1253.00" y="418.10" font-size="13" fill="#fff" text-anchor="middle" font-weight="normal" textLength="31.00" lengthAdjust="spacingAndGlyphs" stroke="#fff" stroke-width="0.3">Назва</text>
<text x="1346.10" y="418.10" font-size="13" fill="#fff" text-anchor="middle" font-weight="normal" textLength="35.30" lengthAdjust="spacingAndGlyphs" stroke="#fff" stroke-width="0.3">Площа</text>
<text x="1118.50" y="436.90" font-size="13" fill="#111" text-anchor="start" font-weight="normal" textLength="6.20" lengthAdjust="spacingAndGlyphs" stroke="#111" stroke-width="0.25">1</text>
<text x="1191.60" y="436.90" font-size="13" fill="#111" text-anchor="start" font-weight="normal" textLength="39.00" lengthAdjust="spacingAndGlyphs" stroke="#111" stroke-width="0.25">Кімната</text>
<text x="1346.10" y="436.90" font-size="13" fill="#111" text-anchor="middle" font-weight="normal" textLength="26.25" lengthAdjust="spacingAndGlyphs" stroke="#111" stroke-width="0.25">14.14</text>
<text x="1118.50" y="456.00" font-size="13" fill="#111" text-anchor="start" font-weight="normal" textLength="6.20" lengthAdjust="spacingAndGlyphs" stroke="#111" stroke-width="0.25">2</text>
<text x="1191.60" y="456.00" font-size="13" fill="#111" text-anchor="start" font-weight="normal" textLength="51.75" lengthAdjust="spacingAndGlyphs" stroke="#111" stroke-width="0.25">Сан.вузол</text>
<text x="1346.10" y="456.00" font-size="13" fill="#111" text-anchor="middle" font-weight="normal" textLength="20.60" lengthAdjust="spacingAndGlyphs" stroke="#111" stroke-width="0.25">4.11</text>
<text x="1118.50" y="475.00" font-size="13" fill="#111" text-anchor="start" font-weight="normal" textLength="6.20" lengthAdjust="spacingAndGlyphs" stroke="#111" stroke-width="0.25">3</text>
<text x="1191.60" y="475.00" font-size="13" fill="#111" text-anchor="start" font-weight="normal" textLength="51.75" lengthAdjust="spacingAndGlyphs" stroke="#111" stroke-width="0.25">Сан.вузол</text>
<text x="1346.10" y="475.00" font-size="13" fill="#111" text-anchor="middle" font-weight="normal" textLength="20.60" lengthAdjust="spacingAndGlyphs" stroke="#111" stroke-width="0.25">3.12</text>
<text x="1118.50" y="494.00" font-size="13" fill="#111" text-anchor="start" font-weight="normal" textLength="6.20" lengthAdjust="spacingAndGlyphs" stroke="#111" stroke-width="0.25">4</text>
<text x="1191.60" y="494.00" font-size="13" fill="#111" text-anchor="start" font-weight="normal" textLength="72.75" lengthAdjust="spacingAndGlyphs" stroke="#111" stroke-width="0.25">Кухня-їдальня</text>
<text x="1346.10" y="494.00" font-size="13" fill="#111" text-anchor="middle" font-weight="normal" textLength="27.60" lengthAdjust="spacingAndGlyphs" stroke="#111" stroke-width="0.25">29.93</text>
<text x="1118.50" y="513.20" font-size="13" fill="#111" text-anchor="start" font-weight="normal" textLength="6.20" lengthAdjust="spacingAndGlyphs" stroke="#111" stroke-width="0.25">5</text>
<text x="1191.60" y="513.20" font-size="13" fill="#111" text-anchor="start" font-weight="normal" textLength="43.70" lengthAdjust="spacingAndGlyphs" stroke="#111" stroke-width="0.25">Коридор</text>
<text x="1346.10" y="513.20" font-size="13" fill="#111" text-anchor="middle" font-weight="normal" textLength="20.60" lengthAdjust="spacingAndGlyphs" stroke="#111" stroke-width="0.25">5.93</text>
<text x="1118.50" y="532.50" font-size="13" fill="#111" text-anchor="start" font-weight="normal" textLength="6.20" lengthAdjust="spacingAndGlyphs" stroke="#111" stroke-width="0.25">6</text>
<text x="1191.60" y="532.50" font-size="13" fill="#111" text-anchor="start" font-weight="normal" textLength="85.50" lengthAdjust="spacingAndGlyphs" stroke="#111" stroke-width="0.25">Засклена лоджія</text>
<text x="1346.10" y="532.50" font-size="13" fill="#111" text-anchor="middle" font-weight="normal" textLength="20.60" lengthAdjust="spacingAndGlyphs" stroke="#111" stroke-width="0.25">4.27</text>
<text x="1142.00" y="607.50" font-size="20" fill="#111" text-anchor="start" font-weight="normal" textLength="128.40" lengthAdjust="spacingAndGlyphs">Схема поверху</text>
<!-- floor scheme -->
<path d="M1160.00,659.22 H1173.59 V667.19 H1198.44 V699.53 H1185.31 V694.37 H1160.00 Z" fill="#f6f38c" stroke="none" stroke-width="0" stroke-linejoin="miter"/>
<path d="M1144.53,625.94 V694.84 H1184.84 V700.00 H1261.25" fill="none" stroke="#0c0c0c" stroke-width="1.6" stroke-linejoin="miter"/>
<path d="M1144.53,625.94 H1158.12 M1160.00,625.94 H1170.31 M1175.00,625.94 H1186.25" fill="none" stroke="#0c0c0c" stroke-width="1.4" stroke-linejoin="miter"/>
<path d="M1186.25,649.37 V619.37 H1207.81 V660.62" fill="none" stroke="#0c0c0c" stroke-width="1.6" stroke-linejoin="miter"/>
<path d="M1207.81,622.19 H1222.81 V629.22 M1207.81,629.22 H1261.25" fill="none" stroke="#0c0c0c" stroke-width="1.4" stroke-linejoin="miter"/>
<path d="M1261.25,629.22 L1266.87,635.31 L1261.25,640.94 V651.25 L1266.87,656.41 L1261.25,661.56 V677.50 L1266.87,680.31 L1261.25,687.81 V700.00" fill="none" stroke="#0c0c0c" stroke-width="1.5" stroke-linejoin="miter"/>
<path d="M1261.25,664.84 H1255.16 V670.00 L1252.34,672.34 H1261.25 M1261.25,689.69 H1254.22 L1251.87,691.56 L1254.69,694.37 V698.12" fill="none" stroke="#0c0c0c" stroke-width="1.2" stroke-linejoin="miter"/>
<path d="M1159.06,625.94 V651.25 H1167.50" fill="none" stroke="#0c0c0c" stroke-width="1.3" stroke-linejoin="miter"/>
<path d="M1145.47,632.50 H1154.84 L1157.19,635.31 L1158.12,626.41" fill="none" stroke="#0c0c0c" stroke-width="1.0" stroke-linejoin="miter"/>
<path d="M1145.47,655.94 H1152.97 M1145.47,666.72 H1153.44" fill="none" stroke="#0c0c0c" stroke-width="1.2" stroke-linejoin="miter"/>
<path d="M1153.44,651.25 V666.25" fill="none" stroke="#0c0c0c" stroke-width="1.3" stroke-dasharray="2 1" stroke-linejoin="miter"/>
<path d="M1159.53,659.22 V694.37" fill="none" stroke="#0c0c0c" stroke-width="1.5" stroke-linejoin="miter"/>
<path d="M1159.53,659.22 H1173.59 V667.19" fill="none" stroke="#0c0c0c" stroke-width="1.4" stroke-linejoin="miter"/>
<path d="M1160.00,667.19 H1199.37" fill="none" stroke="#0c0c0c" stroke-width="1.4" stroke-dasharray="5 1.5" stroke-linejoin="miter"/>
<path d="M1199.37,667.19 V699.53" fill="none" stroke="#0c0c0c" stroke-width="1.6" stroke-linejoin="miter"/>
<path d="M1173.12,673.75 V694.37" fill="none" stroke="#0c0c0c" stroke-width="1.5" stroke-linejoin="miter"/>
<path d="M1174.06,674.69 H1183.44 M1190.00,670.00 V676.56 H1197.50 M1160.94,686.87 H1171.25 V690.62" fill="none" stroke="#0c0c0c" stroke-width="1.3" stroke-linejoin="miter"/>
<path d="M1168.91,659.69 V666.25 M1171.25,659.69 V666.25 M1173.12,659.69 V666.25" fill="none" stroke="#0c0c0c" stroke-width="0.8" stroke-linejoin="miter"/>
<path d="M1199.37,625.94 V658.75 M1178.75,649.37 H1199.37 M1178.75,649.37 V658.75 H1199.37" fill="none" stroke="#0c0c0c" stroke-width="1.4" stroke-linejoin="miter"/>
<path d="M1187.19,651.25 V657.81 M1190.94,651.25 V657.81 M1194.69,651.25 V657.81 M1197.50,651.25 V657.81" fill="none" stroke="#0c0c0c" stroke-width="1.0" stroke-linejoin="miter"/>
<path d="M1193.75,626.12 H1199.84" fill="none" stroke="#0c0c0c" stroke-width="2.0" stroke-linejoin="miter"/>
<path d="M1187.94,632.97 L1190.00,638.59 L1192.06,632.97 Z" fill="#0c0c0c" stroke="#0c0c0c" stroke-width="0.6" stroke-linejoin="miter"/>
<path d="M1180.62,649.84 H1185.31 V651.72 H1180.62 Z" fill="none" stroke="#444" stroke-width="0.8" stroke-linejoin="miter"/>
<path d="M1209.69,641.87 H1215.31 V644.87 H1209.69 M1209.69,651.25 H1215.31 M1215.31,651.25 V659.69 M1207.81,660.62 H1215.31" fill="none" stroke="#0c0c0c" stroke-width="1.4" stroke-linejoin="miter"/>
<path d="M1233.12,629.69 V644.69 H1247.19 V629.69" fill="none" stroke="#0c0c0c" stroke-width="1.3" stroke-dasharray="5 1.5" stroke-linejoin="miter"/>
<path d="M1222.81,661.09 V650.31 H1239.69 V653.59" fill="none" stroke="#0c0c0c" stroke-width="1.4" stroke-dasharray="7 1.2" stroke-linejoin="miter"/>
<path d="M1237.81,653.59 H1261.25" fill="none" stroke="#0c0c0c" stroke-width="1.3" stroke-linejoin="miter"/>
<path d="M1222.81,675.62 V668.12 H1234.06 V674.69" fill="none" stroke="#0c0c0c" stroke-width="1.4" stroke-dasharray="6 1.2" stroke-linejoin="miter"/>
<path d="M1235.94,674.22 H1261.25" fill="none" stroke="#0c0c0c" stroke-width="1.3" stroke-linejoin="miter"/>
<path d="M1223.75,668.59 V675.16 M1224.87,668.59 V675.16" fill="none" stroke="#333" stroke-width="0.7" stroke-linejoin="miter"/>
<path d="M1226.56,677.50 V685.94 H1235.94 M1238.75,686.41 H1252.81" fill="none" stroke="#0c0c0c" stroke-width="1.4" stroke-dasharray="6 1.3" stroke-linejoin="miter"/>
<path d="M1218.12,690.62 H1228.44 V699.53" fill="none" stroke="#0c0c0c" stroke-width="1.3" stroke-linejoin="miter"/>
<path d="M1207.81,675.62 H1217.19 V699.53" fill="none" stroke="#0c0c0c" stroke-width="1.7" stroke-linejoin="miter"/>
<path d="M1207.81,675.62 V692.50" fill="none" stroke="#0c0c0c" stroke-width="1.4" stroke-dasharray="4 1.2" stroke-linejoin="miter"/>
<path d="M1207.81,684.06 H1215.31" fill="none" stroke="#0c0c0c" stroke-width="1.3" stroke-linejoin="miter"/>
<path d="M1200.31,696.25 H1214.37 M1200.31,696.25 V699.53 M1204.06,696.25 V699.53" fill="none" stroke="#0c0c0c" stroke-width="1.3" stroke-linejoin="miter"/>
<!-- scale bar -->
<text x="1041.00" y="898.70" font-size="12.5" fill="#111" text-anchor="start" font-weight="normal">0</text>
<text x="1152.50" y="898.70" font-size="12.5" fill="#111" text-anchor="start" font-weight="normal" textLength="14.80" lengthAdjust="spacingAndGlyphs">2м</text>
<text x="1324.70" y="898.70" font-size="12.5" fill="#111" text-anchor="start" font-weight="normal" textLength="15.20" lengthAdjust="spacingAndGlyphs">5м</text>
<rect x="1044.00" y="901.60" width="287.60" height="3.50" fill="#fff" stroke="#111" stroke-width="0.8"/>
<rect x="1044.00" y="901.30" width="57.90" height="4.10" fill="#000" stroke="none" stroke-width="1"/>
<rect x="1158.90" y="901.30" width="57.70" height="4.10" fill="#000" stroke="none" stroke-width="1"/>
<rect x="1273.60" y="901.30" width="58.00" height="4.10" fill="#000" stroke="none" stroke-width="1"/>
<!-- notes -->
<text x="1044.00" y="929.80" font-size="13" fill="#111" text-anchor="start" font-weight="normal" textLength="50.30" lengthAdjust="spacingAndGlyphs">Примітки:</text>
<line x1="1096.00" y1="929.60" x2="1360.00" y2="929.60" stroke="#6c6c6c" stroke-width="1.35" stroke-dasharray="7.8 5.1"/>
<line x1="1044.00" y1="946.90" x2="1360.00" y2="946.90" stroke="#6c6c6c" stroke-width="1.35" stroke-dasharray="7.8 5.1"/>
<line x1="1044.00" y1="964.00" x2="1360.00" y2="964.00" stroke="#6c6c6c" stroke-width="1.35" stroke-dasharray="7.8 5.1"/>
<line x1="1044.00" y1="981.10" x2="1360.00" y2="981.10" stroke="#6c6c6c" stroke-width="1.35" stroke-dasharray="7.8 5.1"/>
</svg>
</body>
</html>
